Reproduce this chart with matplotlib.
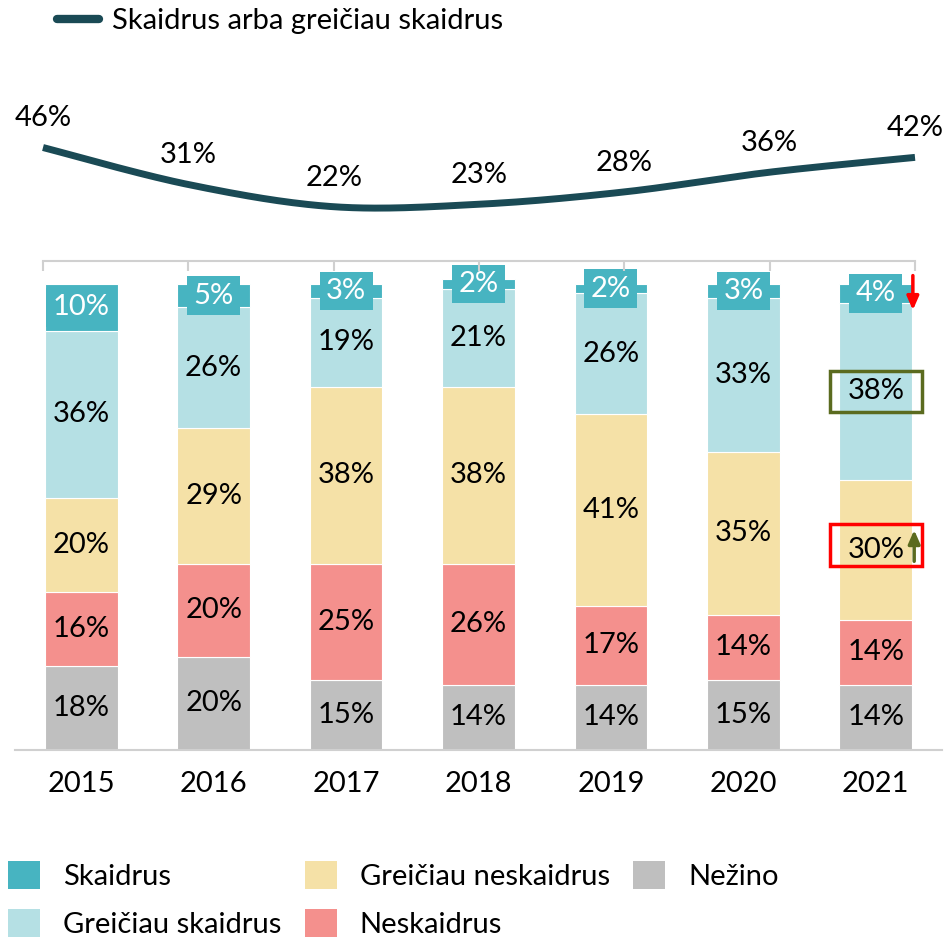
import numpy as np
import matplotlib
matplotlib.use('Agg')
import matplotlib.pyplot as plt
from matplotlib.patches import Patch, Rectangle
from matplotlib.lines import Line2D

plt.rcParams['font.family'] = ['Lato', 'DejaVu Sans']

years = ['2015', '2016', '2017', '2018', '2019', '2020', '2021']
nezino = [18, 20, 15, 14, 14, 15, 14]
neskaidrus = [16, 20, 25, 26, 17, 14, 14]
greiciau_neskaidrus = [20, 29, 38, 38, 41, 35, 30]
greiciau_skaidrus = [36, 26, 19, 21, 26, 33, 38]
skaidrus = [10, 5, 3, 2, 2, 3, 4]
combined = [46, 31, 22, 23, 28, 36, 42]

series = [
    ('Nežino', nezino, '#BFBFBF'),
    ('Neskaidrus', neskaidrus, '#F4908D'),
    ('Greičiau neskaidrus', greiciau_neskaidrus, '#F5E1A7'),
    ('Greičiau skaidrus', greiciau_skaidrus, '#B5E0E4'),
    ('Skaidrus', skaidrus, '#47B4C1'),
]
line_color = '#1A4A55'
spine_color = '#D0D0D0'
FS = 21

W, H = 945, 938
fig = plt.figure(figsize=(W / 100, H / 100), dpi=100)

# bar axes
ax = fig.add_axes([15 / W, (H - 750) / H, 927 / W, 489 / H])
x = np.arange(len(years))
bottom = np.zeros(len(years))
for name, vals, col in series:
    vals = np.array(vals, dtype=float)
    ax.bar(x, vals, width=0.55, bottom=bottom, color=col, edgecolor='white', linewidth=0.8, label=name)
    for xi, b, v in zip(x, bottom, vals):
        if name == 'Skaidrus':
            ax.text(xi, b + v / 2, f'{int(v)}%', ha='center', va='center', fontsize=FS, color='white',
                    bbox=dict(boxstyle='square,pad=0.22', fc=col, ec='none'), zorder=5)
        else:
            ax.text(xi, b + v / 2, f'{int(v)}%', ha='center', va='center', fontsize=FS, color='black', zorder=5)
    bottom += vals

ax.set_xlim(-0.5, 6.5)
ax.set_ylim(0, 489 / 4.66)
ax.set_xticks(x)
ax.set_xticklabels(years, fontsize=FS)
ax.tick_params(axis='x', length=0, pad=15)
ax.set_yticks([])
for s in ['top', 'left', 'right']:
    ax.spines[s].set_visible(False)
ax.spines['bottom'].set_color(spine_color)
ax.spines['bottom'].set_linewidth(1.5)
ax.patch.set_alpha(0)

# annotations on 2021
ax.add_patch(Rectangle((5.652, 72.5), 0.695, 8.8, fill=False, ec='#5B6B1F', lw=2.5, zorder=6))
ax.add_patch(Rectangle((5.652, 39.5), 0.695, 9.0, fill=False, ec='#FF0000', lw=2.5, zorder=6))
ax.annotate('', xy=(6.29, 47.8), xytext=(6.29, 39.9),
            arrowprops=dict(arrowstyle='-|>,head_width=0.35,head_length=0.8', color='#5B6B1F', lw=2.5), zorder=7)
ax.annotate('', xy=(6.28, 93.8), xytext=(6.28, 102.4),
            arrowprops=dict(arrowstyle='-|>,head_width=0.35,head_length=0.8', color='#FF0000', lw=2.5), zorder=7)

# line axes
lax = fig.add_axes([43 / W, (H - 261) / H, 872 / W, 246.7 / H])
lax.set_xlim(0, 6)
lax.set_ylim(0, 100)
lax.patch.set_alpha(0)
for s in ['top', 'left', 'right']:
    lax.spines[s].set_visible(False)
lax.spines['bottom'].set_color(spine_color)
lax.spines['bottom'].set_linewidth(1.5)
lax.set_xticks(x)
lax.set_xticklabels([])
lax.tick_params(axis='x', direction='out', length=7, width=1.5, color=spine_color)
lax.set_yticks([])


def catmull_rom(xs, ys, n=40):
    xs = np.asarray(xs, float)
    ys = np.asarray(ys, float)
    px = np.concatenate([[xs[0]], xs, [xs[-1]]])
    py = np.concatenate([[ys[0]], ys, [ys[-1]]])
    outx, outy = [], []
    for i in range(1, len(px) - 2):
        t = np.linspace(0, 1, n)
        for p, out in ((px, outx), (py, outy)):
            p0, p1, p2, p3 = p[i - 1], p[i], p[i + 1], p[i + 2]
            out.extend(0.5 * ((2 * p1) + (-p0 + p2) * t + (2 * p0 - 5 * p1 + 4 * p2 - p3) * t ** 2
                              + (-p0 + 3 * p1 - 3 * p2 + p3) * t ** 3))
    return np.array(outx), np.array(outy)


sx, sy = catmull_rom(x, combined)
lax.plot(sx, sy, color=line_color, lw=5, solid_capstyle='butt', clip_on=False,
         label='Skaidrus arba greičiau skaidrus')
for xi, v in zip(x, combined):
    lax.annotate(f'{v}%', (xi, v), xytext=(0, 21), textcoords='offset points', ha='center', va='center',
                 fontsize=FS, color='black')

# top legend
top_handle = Line2D([], [], color=line_color, lw=6, solid_capstyle='round')
fig.legend([top_handle], ['Skaidrus arba greičiau skaidrus'], loc='center left',
           bbox_to_anchor=(57 / W, (H - 21) / H), frameon=False, fontsize=FS,
           borderpad=0, borderaxespad=0, handlelength=1.45, handletextpad=0.42)

# bottom legend
order = ['Skaidrus', 'Greičiau skaidrus', 'Greičiau neskaidrus', 'Neskaidrus', 'Nežino']
cmap = {n: c for n, _, c in series}
handles = [Patch(facecolor=cmap[n], edgecolor='none') for n in order]
fig.legend(handles, order, loc='upper left', bbox_to_anchor=(8 / W, (H - 861) / H), ncol=3,
           frameon=False, fontsize=FS, borderpad=0, borderaxespad=0,
           handlelength=1.1, handleheight=1.1, handletextpad=0.79, labelspacing=0.66,
           columnspacing=0.79)

fig.savefig('out.png', dpi=100)
